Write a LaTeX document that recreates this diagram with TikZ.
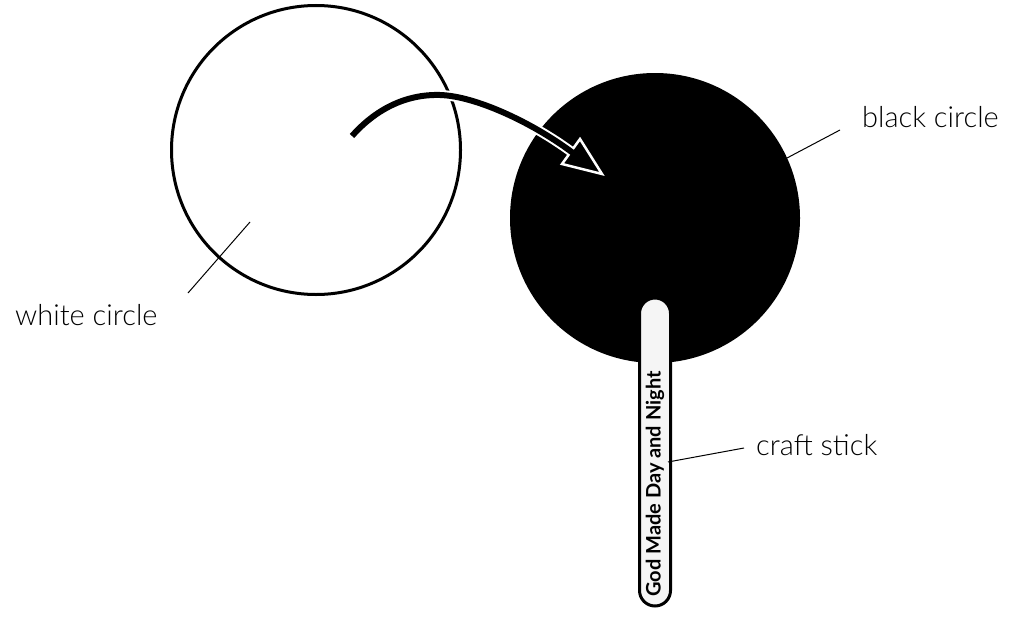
\documentclass[tikz,border=0pt]{standalone}
\usepackage{fontspec}
\setmainfont{Lato Light}[BoldFont={Lato Bold}]
\tikzset{
  leader/.style={line width=1pt},
  label/.style={anchor=base west,inner sep=0pt,font=\fontsize{29}{34}\selectfont}
}
\begin{document}
\begin{tikzpicture}[x=1pt,y=-1pt]
\useasboundingbox (0,0) rectangle (1011,618);
\node[circle,draw,line width=3pt,minimum size=289pt,inner sep=0pt] (white) at (316,150) {};
\node[circle,fill=black,minimum size=290pt,inner sep=0pt] (black) at (655,218) {};
% arrow from white to black
\coordinate (a0) at (352,136);
\coordinate (a1) at (440,95);
\coordinate (a2) at (571,151.5);
\draw[white,line width=10pt] (a0) .. controls (375,110) and (405,94) .. (a1) .. controls (475,96) and (531,122) .. (a2);
\draw[white,line width=2.5pt,line join=miter,fill=black] (602,174) -- (580,139) -- (562,164) -- cycle;
\draw[black,line width=6pt] (a0) .. controls (375,110) and (405,94) .. (a1) .. controls (475,96) and (531,122) .. (a2) -- ++(3,2.2);
% craft stick
\node[draw,line width=3pt,fill=black!4,rounded corners=15.5pt,minimum width=31pt,minimum height=308pt,inner sep=0pt] (stick) at (655,452) {};
\node[rotate=90,inner sep=0pt,font=\fontsize{20}{23}\selectfont\bfseries] (stext) at (655,484) {God Made Day and Night};
% labels
\node[label] (wlabel) at (15,325) {white circle};
\node[label] (blabel) at (862,127) {black circle};
\node[label] (slabel) at (756,455) {craft stick};
\coordinate (w1) at (188,293);
\coordinate (w2) at (250,222);
\coordinate (b1) at (787,158);
\coordinate (b2) at (840,130);
\coordinate (s1) at (668,462);
\coordinate (s2) at (744,448);
\draw[leader] (w1) -- (w2);
\draw[leader] (b1) -- (b2);
\draw[leader] (s1) -- (s2);
\end{tikzpicture}
\end{document}
